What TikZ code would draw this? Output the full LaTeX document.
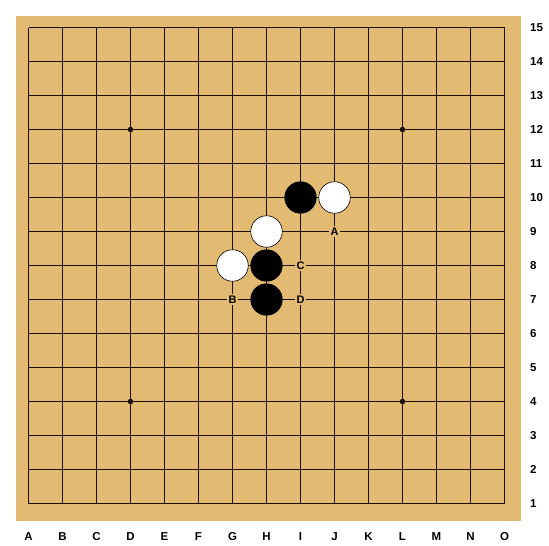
\documentclass[tikz,border=0pt]{standalone}
\usepackage{fontspec}
\setmainfont{Liberation Sans}
\definecolor{wood}{HTML}{E2BA72}
\definecolor{gridc}{HTML}{1A0E08}
\begin{document}
\begin{tikzpicture}[x=1pt,y=-1pt,
  gridline/.style={draw=gridc,line width=1pt},
  starpt/.style={circle,fill=gridc,inner sep=0pt,minimum size=5.5pt},
  blackstone/.style={circle,fill=black,draw=black,line width=0.6pt,inner sep=0pt,minimum size=31.5pt},
  whitestone/.style={circle,fill=white,draw=black,line width=0.6pt,inner sep=0pt,minimum size=31.5pt},
  marklabel/.style={fill=wood,inner sep=1.5pt,font=\fontsize{11}{11}\selectfont\bfseries},
  axislabel/.style={font=\fontsize{11.5}{11.5}\selectfont\bfseries,inner sep=0pt},
]
\useasboundingbox (0,0) rectangle (549,546);
\fill[white] (0,0) rectangle (549,546);
\node[fill=wood,inner sep=0pt,minimum width=505pt,minimum height=505pt] (board) at (268.3,268.3) {};
% grid
\foreach \i in {0,...,14} {
  \draw[gridline] (28.5+34*\i,27.5) -- (28.5+34*\i,503.5);
  \draw[gridline] (28.5,27.5+34*\i) -- (504.5,27.5+34*\i);
}
% star points D12 L12 D4 L4
\node[starpt] (s1) at (130.5,129.5) {};
\node[starpt] (s2) at (402.5,129.5) {};
\node[starpt] (s3) at (130.5,401.5) {};
\node[starpt] (s4) at (402.5,401.5) {};
% stones
\node[blackstone] (I10) at (300.5,197.5) {};
\node[whitestone] (J10) at (334.5,197.5) {};
\node[whitestone] (H9) at (266.5,231.5) {};
\node[whitestone] (G8) at (232.5,265.5) {};
\node[blackstone] (H8) at (266.5,265.5) {};
\node[blackstone] (H7) at (266.5,299.5) {};
% marks
\node[marklabel] (mA) at (334.5,231.5) {A};
\node[marklabel] (mB) at (232.5,299.5) {B};
\node[marklabel] (mC) at (300.5,265.5) {C};
\node[marklabel] (mD) at (300.5,299.5) {D};
% column labels
\foreach \l [count=\k from 0] in {A,B,C,D,E,F,G,H,I,J,K,L,M,N,O} {
  \node[axislabel] (col\l) at (28.5+34*\k,537) {\l};
}
% row labels
\foreach \n in {1,...,15} {
  \node[axislabel,anchor=west] (row\n) at (530,27.5+34*15-34*\n) {\n};
}
\end{tikzpicture}
\end{document}
